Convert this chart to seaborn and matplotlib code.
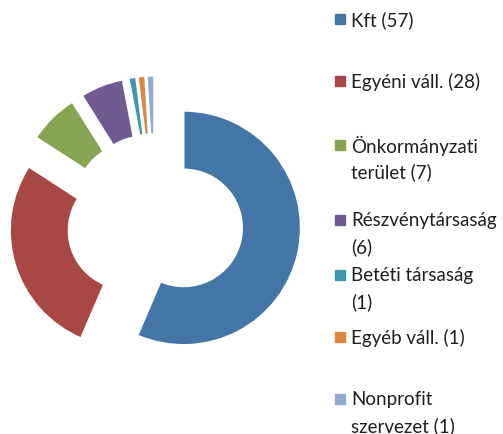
import matplotlib
matplotlib.use("Agg")
import matplotlib.pyplot as plt
import seaborn as sns

# data
labels = ["Kft (57)", "Egyéni váll. (28)", "Önkormányzati\nterület (7)",
          "Részvénytársaság\n(6)", "Betéti társaság\n(1)", "Egyéb váll. (1)",
          "Nonprofit\nszervezet (1)"]
counts = [57, 28, 7, 6, 1, 1, 1]
colors = ["#4375A6", "#A84845", "#86A552", "#6F5A92", "#3E99AF", "#DC8540", "#91AAD0"]

sns.set_theme(style="white")
plt.rcParams['font.family'] = ['Lato', 'DejaVu Sans']

W, H, dpi = 503, 435, 100
fig = plt.figure(figsize=(W / dpi, H / dpi), dpi=dpi)
ax = fig.add_axes([0, 0, 1, 1])

# pie geometry in pixels
R = 117.0
cx, cy = 155.0, 212.0

ax.pie(counts, colors=colors, startangle=90, counterclock=False,
       explode=[0.25] * len(counts), radius=1.0,
       wedgeprops=dict(width=0.5, edgecolor="white", linewidth=1.2))
ax.set_aspect("auto")
ax.set_xlim(-cx / R, (W - cx) / R)
ax.set_ylim(-cy / R, (H - cy) / R)
ax.axis("off")

# legend, laid out by hand like the original
leg_y = [20, 82, 146, 221, 276, 338, 400]   # px from top, first line
line_gap = 26
for lab, col, y in zip(labels, colors, leg_y):
    fig.patches.append(plt.Rectangle((335 / W, (H - y - 5) / H), 10 / W, 10 / H,
                                     transform=fig.transFigure, color=col))
    for i, line in enumerate(lab.split("\n")):
        fig.text(351 / W, (H - y - i * line_gap) / H, line, fontsize=13.5,
                 color="#1e1e1e", va="center", ha="left")

fig.savefig("out.png", dpi=dpi)
